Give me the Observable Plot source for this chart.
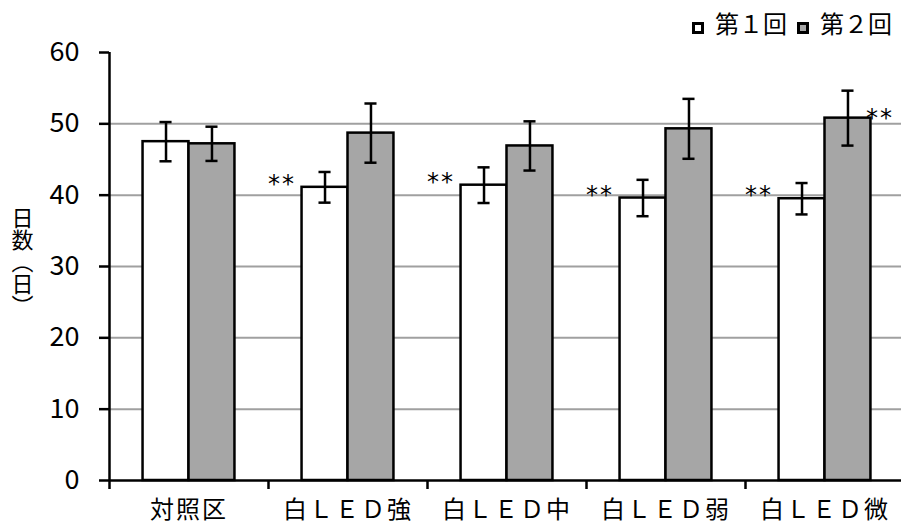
<!DOCTYPE html>
<html>
<head>
<meta charset="utf-8">
<script src="https://cdn.jsdelivr.net/npm/d3@7"></script>
<script src="https://cdn.jsdelivr.net/npm/@observablehq/plot@0.6"></script>
<style>
  body { margin: 0; background: #fff; font-family: "Noto Sans CJK JP", "Noto Sans", sans-serif; }
  #wrap { position: relative; width: 901px; height: 532px; }
  .legend { position: absolute; top: 11px; right: 9px; display: flex; align-items: center; font-size: 24px; line-height: 1; color: #000; }
  .legend .item { display: flex; align-items: center; margin-left: 10px; }
  .legend .sw { width: 6px; height: 6px; border: 3px solid #000; margin-right: 11px; margin-top: 10px; }
</style>
</head>
<body>
<div id="wrap"></div>
<script>
// Days per treatment, two trials (mean ± error)
const categories = ["対照区", "白ＬＥＤ強", "白ＬＥＤ中", "白ＬＥＤ弱", "白ＬＥＤ微"];
const seriesNames = ["第１回", "第２回"];
const seriesColors = ["#ffffff", "#a6a6a6"];
const trial1Mean = [47.5, 41.1, 41.4, 39.6, 39.5];
const trial1Err  = [2.75, 2.15, 2.5, 2.55, 2.2];
const trial2Mean = [47.2, 48.7, 46.9, 49.3, 50.8];
const trial2Err  = [2.4, 4.15, 3.45, 4.2, 3.85];
const trial1Sig  = ["", "**", "**", "**", "**"];
const trial2Sig  = ["", "", "", "", "**"];
const yTicks = [0, 10, 20, 30, 40, 50, 60];
const yLabel = "日数（日）";

const barWidth = 0.289; // fraction of a category slot per bar
const capHalf = 0.038;  // half width of error-bar caps, in slot units

const rows = [];
categories.forEach((c, i) => {
  [[trial1Mean, trial1Err, trial1Sig], [trial2Mean, trial2Err, trial2Sig]].forEach(([m, e, s], k) => {
    const x1 = i + 0.5 + (k - 1) * barWidth;
    rows.push({ category: c, i, series: seriesNames[k], k, mean: m[i], err: e[i], sig: s[i],
      x1, x2: x1 + barWidth, xc: x1 + barWidth / 2 });
  });
});

const font = "'Noto Sans CJK JP', 'Noto Sans', sans-serif";
const starFont = "'DejaVu Sans', sans-serif";

const chart = Plot.plot({
  width: 901,
  height: 532,
  marginLeft: 109,
  marginRight: 0,
  marginTop: 52,
  marginBottom: 52,
  x: { domain: [0, categories.length], range: [109, 904], axis: null },
  y: { domain: [0, 60], axis: null },
  color: { domain: seriesNames, range: seriesColors },
  style: { fontFamily: font, background: "#fff", color: "#000", overflow: "visible" },
  marks: [
    Plot.gridY(yTicks.filter(t => t > 0 && t < 60), { stroke: "#a0a0a0", strokeOpacity: 1, strokeWidth: 2 }),
    Plot.rectY(rows, { x1: "x1", x2: "x2", y: "mean", fill: "series", stroke: "#000", strokeWidth: 2.5 }),
    Plot.ruleX(rows, { x: "xc", y1: d => d.mean - d.err, y2: d => d.mean + d.err, stroke: "#000", strokeWidth: 2.5 }),
    Plot.ruleY(rows, { y: d => d.mean + d.err, x1: d => d.xc - capHalf, x2: d => d.xc + capHalf, stroke: "#000", strokeWidth: 2.5 }),
    Plot.ruleY(rows, { y: d => d.mean - d.err, x1: d => d.xc - capHalf, x2: d => d.xc + capHalf, stroke: "#000", strokeWidth: 2.5 }),
    // significance marks
    Plot.text(rows.filter(d => d.k === 0 && d.sig), { x: "x1", y: "mean", text: "sig", textAnchor: "end", dx: -6, dy: -3, fontSize: 24, fontFamily: starFont, fill: "#000" }),
    Plot.text(rows.filter(d => d.k === 1 && d.sig), { x: "x2", y: "mean", text: "sig", textAnchor: "start", dx: -5, dy: 0, fontSize: 24, fontFamily: starFont, fill: "#000" }),
    // axes
    Plot.ruleY([0], { stroke: "#000", strokeWidth: 2.5 }),
    Plot.ruleX([0], { stroke: "#000", strokeWidth: 2.5 }),
    Plot.axisY({ ticks: yTicks, tickSize: 10, tickPadding: 20, fontSize: 27, strokeWidth: 2.5, label: null }),
    Plot.axisX({ ticks: d3.range(categories.length), tickSize: 9, tickFormat: () => "", strokeWidth: 2.5, label: null }),
    Plot.text(categories, { x: (d, i) => i + 0.5, frameAnchor: "bottom", dy: 37, fontSize: 24, fill: "#000" }),
    Plot.text([yLabel], { frameAnchor: "left", dx: -85, textAnchor: "middle", fontSize: 22, fill: "#000" })
  ]
});

const svg = d3.select(chart);
// widen the spacing of the category labels
svg.selectAll("text").filter(function () { return categories.includes(this.textContent); })
  .style("letter-spacing", "2px");
// stack the y-axis title vertically
svg.selectAll("text").filter(function () { return this.textContent === yLabel; })
  .attr("writing-mode", "vertical-rl")
  .style("writing-mode", "vertical-rl")
  .attr("dy", "-12")
  .attr("dx", "-2");
// spread the two asterisks a little
svg.selectAll("text").filter(function () { return this.textContent === "**"; })
  .style("letter-spacing", "2px");

const wrap = document.getElementById("wrap");
wrap.appendChild(chart);

const legend = document.createElement("div");
legend.className = "legend";
seriesNames.forEach((name, k) => {
  const item = document.createElement("div");
  item.className = "item";
  const sw = document.createElement("span");
  sw.className = "sw";
  sw.style.background = seriesColors[k];
  const label = document.createElement("span");
  label.textContent = name;
  item.appendChild(sw);
  item.appendChild(label);
  legend.appendChild(item);
});
wrap.appendChild(legend);
</script>
</body>
</html>
